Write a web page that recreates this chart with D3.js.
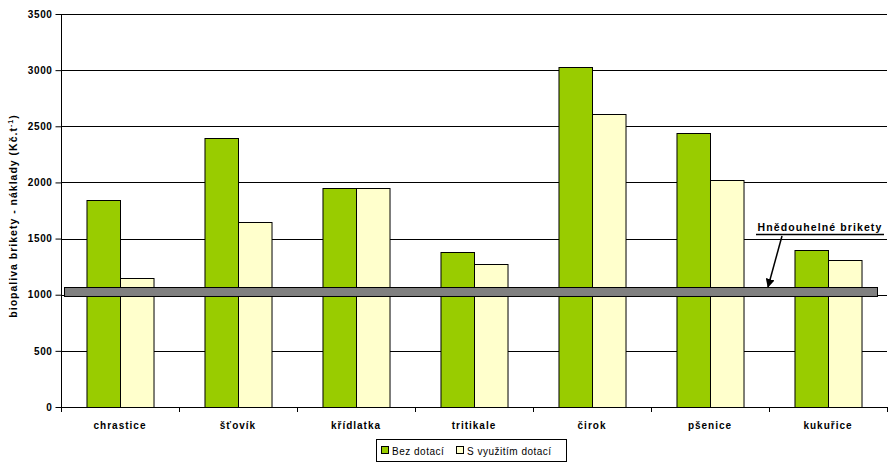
<!DOCTYPE html>
<html><head><meta charset="utf-8">
<script src="https://cdn.jsdelivr.net/npm/d3@7"></script>
<style>body{margin:0;background:#fff}svg{display:block}text{font-family:"Liberation Sans",Arial,sans-serif}</style>
</head><body><svg id="c" width="888" height="466"></svg>
<script>
const categories = ["chrastice","šťovík","křídlatka","tritikale","čirok","pšenice","kukuřice"];
const seriesNames = ["Bez dotací","S využitím dotací"];
const bezDotaci = [1840,2400,1950,1380,3025,2440,1400];
const sDotaci = [1150,1650,1950,1270,2610,2020,1310];
const yTicks = [0,500,1000,1500,2000,2500,3000,3500];
const referenceBand = [985,1065];
const referenceLabel = "Hnědouhelné brikety";
const colors = ["#99CC00","#FFFFCC"];

const svg = d3.select("#c");
const L=61,R=887,T=14,B=407;
const y = d3.scaleLinear().domain([0,3500]).range([B,T]);
const x0 = d3.scaleBand().domain(categories).range([L,R]).paddingInner(0.432).paddingOuter(0.216);
const x1 = d3.scaleBand().domain([0,1]).range([0,x0.bandwidth()]);

// gridlines
svg.append("g").selectAll("line").data(yTicks.filter(d=>d>0)).join("line")
  .attr("x1",L).attr("x2",R).attr("y1",d=>Math.round(y(d))+0.5).attr("y2",d=>Math.round(y(d))+0.5)
  .attr("stroke","#000").attr("stroke-width",1);

// bars
const data = categories.map((c,i)=>({c,v:[bezDotaci[i],sDotaci[i]]}));
const g = svg.append("g").selectAll("g").data(data).join("g").attr("transform",d=>`translate(${x0(d.c)},0)`);
g.selectAll("rect").data(d=>d.v.map((v,k)=>({v,k}))).join("rect")
  .attr("x",d=>x1(d.k)+0.5).attr("width",x1.bandwidth())
  .attr("y",d=>Math.round(y(d.v))+0.5).attr("height",d=>B-Math.round(y(d.v)))
  .attr("fill",d=>colors[d.k]).attr("stroke","#000").attr("stroke-width",1);

// reference band
svg.append("rect").attr("x",64.5).attr("width",877-64)
  .attr("y",Math.round(y(referenceBand[1]))+0.5).attr("height",y(referenceBand[0])-y(referenceBand[1]))
  .attr("fill","#808080").attr("stroke","#000").attr("stroke-width",1);

// y axis
const ya = svg.append("g").attr("transform",`translate(${L+0.5},0)`)
  .call(d3.axisLeft(y).tickValues(yTicks).tickSize(6).tickPadding(3).tickFormat(d3.format("d")));
ya.select(".domain").attr("d",`M0,${T}V${B}`).attr("stroke","#000");
ya.selectAll(".tick line").attr("stroke","#000");
ya.selectAll(".tick text").attr("font-size",10).attr("font-weight","bold").attr("fill","#000")
  .attr("letter-spacing",0.6).attr("font-family","Liberation Sans, Arial, sans-serif");

// x axis
svg.append("line").attr("x1",L).attr("x2",R+1).attr("y1",B+0.5).attr("y2",B+0.5).attr("stroke","#000");
const bounds = categories.map(c=>x0(c)-x0.step()*0.216).concat([R]);
svg.append("g").selectAll("line").data(bounds).join("line")
  .attr("x1",d=>Math.round(d)+0.5).attr("x2",d=>Math.round(d)+0.5).attr("y1",B).attr("y2",B+5).attr("stroke","#000");
svg.append("g").selectAll("text").data(categories).join("text")
  .attr("x",d=>x0(d)+x0.bandwidth()/2).attr("y",429).attr("text-anchor","middle")
  .attr("font-size",10).attr("font-weight","bold").attr("letter-spacing",1).text(d=>d);

// y label
const yl = svg.append("text").attr("transform",`translate(17,216) rotate(-90)`).attr("text-anchor","middle")
  .attr("font-size",10.5).attr("font-weight","bold").attr("letter-spacing",1);
yl.append("tspan").text("biopaliva brikety - náklady (Kč.t");
yl.append("tspan").attr("dy",-4).attr("font-size",7).text("-1");
yl.append("tspan").attr("dy",4).text(")");

// annotation
svg.append("text").attr("x",820).attr("y",231).attr("text-anchor","middle").attr("font-size",10.5)
  .attr("font-weight","bold").attr("letter-spacing",1.1).text(referenceLabel);
svg.append("line").attr("x1",756).attr("x2",884).attr("y1",234.5).attr("y2",234.5).attr("stroke","#000").attr("stroke-width",1.5);
svg.append("defs").append("marker").attr("id","ah").attr("viewBox","0 0 10 10").attr("refX",9).attr("refY",5)
  .attr("markerWidth",6).attr("markerHeight",6).attr("orient","auto")
  .append("path").attr("d","M0,0L10,5L0,10z").attr("fill","#000");
svg.append("line").attr("x1",782).attr("y1",236).attr("x2",768).attr("y2",287)
  .attr("stroke","#000").attr("stroke-width",1.5).attr("marker-end","url(#ah)");

// legend
const lg = svg.append("g");
lg.append("rect").attr("x",376.5).attr("y",439.5).attr("width",190).attr("height",22).attr("fill","#fff").attr("stroke","#000");
const items = [{x:381,t:seriesNames[0],c:colors[0]},{x:456,t:seriesNames[1],c:colors[1]}];
items.forEach(it=>{
  lg.append("rect").attr("x",it.x+0.5).attr("y",446.5).attr("width",7).attr("height",7).attr("fill",it.c).attr("stroke","#000");
  lg.append("text").attr("x",it.x+11).attr("y",454.5).attr("font-size",10).attr("letter-spacing",0.5).text(it.t);
});
</script></body></html>
